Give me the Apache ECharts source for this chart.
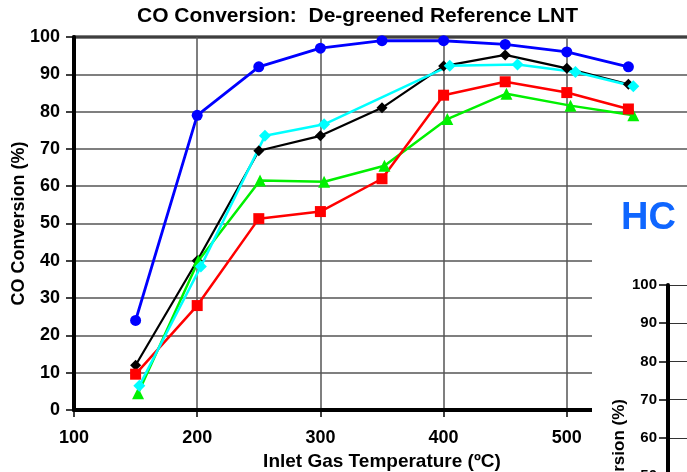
<!DOCTYPE html>
<html>
<head>
<meta charset="utf-8">
<script src="https://cdn.jsdelivr.net/npm/echarts@6/dist/echarts.min.js"></script>
<style>
  html, body { margin: 0; padding: 0; background: #fff; }
  #chart { width: 687px; height: 472px; }
</style>
</head>
<body>
<div id="chart"></div>
<script>
// Inlet gas temperatures (°C) shared by most runs
const temps = [150, 200, 250, 300, 350, 400, 450, 500, 550];

// CO conversion (%) per run
const blueCO  = [24, 79, 92, 97, 99, 99, 98, 96, 92];
const blackCO = [12, 40, 69.5, 73.5, 81, 92.2, 95.2, 91.6, 87.3];
const redCO   = [9.6, 28, 51.3, 53.2, 62, 84.4, 88, 85.1, 80.7];

const greenTemps = [152, 201, 251, 303, 352, 403, 451, 503, 554];
const greenCO    = [4.5, 40, 61.5, 61.2, 65.5, 78, 84.8, 81.6, 79];

const cyanTemps = [153, 203, 255, 303, 405, 460, 507, 554];
const cyanCO    = [6.5, 38.5, 73.5, 76.6, 92.3, 92.6, 90.6, 86.8];

// Axis ticks
const xTicks = [100, 200, 300, 400, 500, 600];
const yTicks = [0, 10, 20, 30, 40, 50, 60, 70, 80, 90, 100];

const FONT = '"Liberation Sans", Arial, sans-serif';

function pairs(xs, ys) {
  return xs.map((x, i) => [x, ys[i]]);
}

function lineSeries(name, xs, ys, color, symbol, size, width) {
  return {
    name: name,
    type: 'line',
    xAxisIndex: 0,
    yAxisIndex: 0,
    data: pairs(xs, ys),
    symbol: symbol,
    symbolSize: size,
    showAllSymbol: true,
    lineStyle: { color: color, width: width },
    itemStyle: { color: color },
    emphasis: { disabled: true },
    animation: false
  };
}

const chart = echarts.init(document.getElementById('chart'), null, { renderer: 'canvas' });

chart.setOption({
  animation: false,
  backgroundColor: '#ffffff',
  title: {
    text: 'CO Conversion:  De-greened Reference LNT',
    left: 137,
    top: 6,
    padding: 0,
    textStyle: { fontFamily: FONT, fontSize: 21, fontWeight: 'bold', color: '#000' }
  },
  grid: [
    { left: 74, top: 37, right: -3, bottom: 62, outerBoundsMode: 'none', containLabel: false,
      show: true, borderColor: '#000', borderWidth: 3, backgroundColor: 'transparent' },
    { left: 668, top: 285, right: -200, bottom: -195, outerBoundsMode: 'none', containLabel: false, show: false }
  ],
  xAxis: [
    {
      type: 'value', gridIndex: 0,
      min: xTicks[0], max: xTicks[xTicks.length - 1], interval: 100,
      name: 'Inlet Gas Temperature (ºC)',
      nameLocation: 'middle', nameGap: 42,
      nameTextStyle: { fontFamily: FONT, fontSize: 19, fontWeight: 'bold', color: '#000' },
      axisLine: { show: true, onZero: false, lineStyle: { color: '#000', width: 4 } },
      axisTick: { show: true, length: 7, lineStyle: { color: '#000', width: 1.5 } },
      axisLabel: { margin: 19, fontFamily: FONT, fontSize: 18, fontWeight: 'bold', color: '#000' },
      splitLine: { show: true, lineStyle: { color: '#555', width: 1.5 } }
    },
    {
      type: 'value', gridIndex: 1, position: 'top',
      min: 100, max: 600, interval: 100,
      axisLine: { show: true, lineStyle: { color: '#000', width: 3 } },
      axisTick: { show: false },
      axisLabel: { show: false },
      splitLine: { show: false },
      z: 120
    }
  ],
  yAxis: [
    {
      type: 'value', gridIndex: 0,
      min: yTicks[0], max: yTicks[yTicks.length - 1], interval: 10,
      name: 'CO Conversion (%)',
      nameLocation: 'middle', nameGap: 46, nameMoveOverlap: false,
      nameTextStyle: { fontFamily: FONT, fontSize: 18, fontWeight: 'bold', color: '#000' },
      axisLine: { show: true, onZero: false, lineStyle: { color: '#000', width: 4 } },
      axisTick: { show: true, length: 8, lineStyle: { color: '#000', width: 1.5 } },
      axisLabel: { margin: 14, fontFamily: FONT, fontSize: 18, fontWeight: 'bold', color: '#000' },
      splitLine: { show: true, lineStyle: { color: '#555', width: 1.5 } }
    },
    {
      type: 'value', gridIndex: 1,
      min: yTicks[0], max: yTicks[yTicks.length - 1], interval: 10,
      name: 'HC Conversion (%)',
      nameLocation: 'middle', nameGap: 38,
      nameTextStyle: { fontFamily: FONT, fontSize: 17, fontWeight: 'bold', color: '#000' },
      axisLine: { show: true, onZero: false, lineStyle: { color: '#000', width: 4 } },
      axisTick: { show: true, length: 9, lineStyle: { color: '#000', width: 1.5 } },
      axisLabel: { margin: 11, fontFamily: FONT, fontSize: 15, fontWeight: 'bold', color: '#000' },
      splitLine: { show: true, lineStyle: { color: '#333', width: 1.2 } },
      z: 120
    }
  ],
  graphic: [
    {
      type: 'rect', z: 100,
      shape: { x: 592, y: 188, width: 100, height: 290 },
      style: { fill: '#ffffff' }
    },
    {
      type: 'text', z: 130,
      x: 621, y: 219,
      style: {
        text: 'HC', fontFamily: FONT, fontSize: 38, fontWeight: 'bold',
        fill: '#0f66ff', textAlign: 'left', textVerticalAlign: 'middle'
      }
    }
  ],
  series: [
    lineSeries('Run A', temps, blueCO, '#0000ff', 'circle', 11, 2.8),
    lineSeries('Run B', temps, blackCO, '#000000', 'diamond', 11, 2.2),
    lineSeries('Run C', greenTemps, greenCO, '#00f000', 'triangle', 12, 2.5),
    lineSeries('Run D', temps, redCO, '#ff0000', 'rect', 11, 2.5),
    lineSeries('Run E', cyanTemps, cyanCO, '#00ffff', 'diamond', 12, 2.5)
  ]
});
</script>
</body>
</html>
